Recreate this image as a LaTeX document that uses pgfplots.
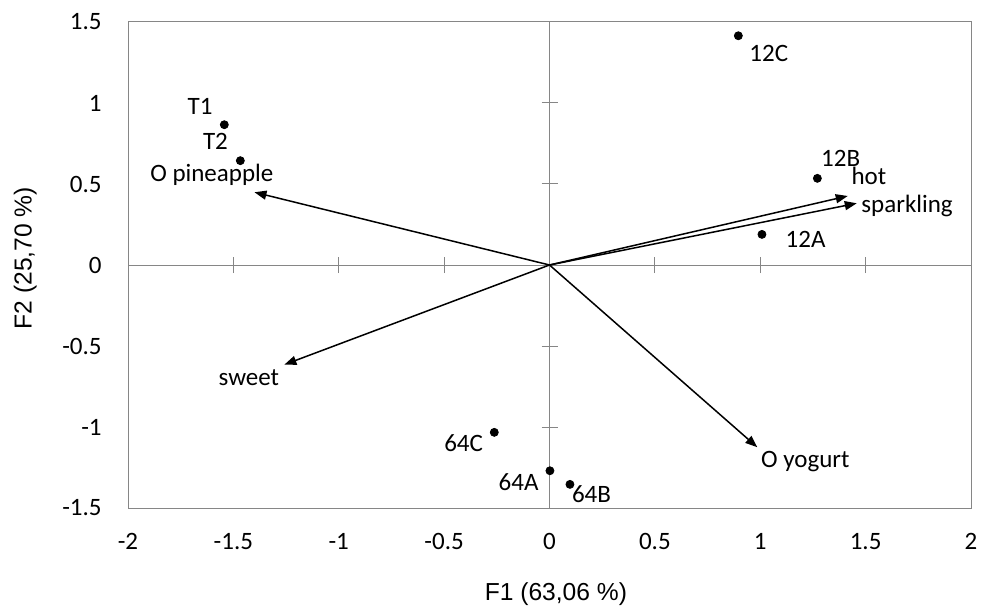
\documentclass[border=0pt]{standalone}
\usepackage{fontspec}
\setmainfont{Liberation Sans}
\newfontfamily\labfont{Carlito}
\usepackage{pgfplots}
\pgfplotsset{compat=1.18}
\usetikzlibrary{arrows.meta}
\definecolor{axgray}{RGB}{134,134,134}

\begin{document}
\begin{tikzpicture}[
    arr/.style={black, line width=0.75pt, -{Triangle[length=6pt,width=4.5pt]}},
    lab/.style={font=\labfont\fontsize{12.5}{14}\selectfont, anchor=base west, inner sep=0pt},
  ]
\begin{axis}[
    name=ax,
    scale only axis,
    width=421.5pt, height=243pt,
    xmin=-2, xmax=2, ymin=-1.5, ymax=1.5,
    xtick={-2,-1.5,-1,-0.5,0,0.5,1,1.5,2},
    xticklabels={-2,-1.5,-1,-0.5,0,0.5,1,1.5,2},
    ytick={-1.5,-1,-0.5,0,0.5,1,1.5},
    yticklabels={-1.5,-1,-0.5,0,0.5,1,1.5},
    major tick length=0pt,
    axis line style={axgray, line width=0.5pt},
    clip=false,
    xticklabel style={anchor=north, inner sep=0pt, yshift=-12.5pt, font=\labfont\fontsize{12.5}{14}\selectfont},
    yticklabel style={anchor=east, inner sep=0pt, xshift=-13pt, font=\labfont\fontsize{12.5}{14}\selectfont},
    xlabel={F1 (63,06 \%)},
    ylabel={F2 (25,70 \%)},
    label style={font=\fontsize{12.3}{14}\selectfont},
    xlabel style={at={(axis description cs:0.5076,-0.177)}, anchor=center},
    ylabel style={at={(axis description cs:-0.122,0.514)}, anchor=center},
  ]
  % zero lines with crossing ticks
  \draw[axgray, line width=0.5pt] (axis cs:-2,0) -- (axis cs:2,0);
  \draw[axgray, line width=0.5pt] (axis cs:0,-1.5) -- (axis cs:0,1.5);
  \pgfplotsinvokeforeach{-1.5,-1,-0.5,0.5,1,1.5}{
    \draw[axgray, line width=0.5pt] ([yshift=-4pt]axis cs:#1,0) -- ([yshift=4pt]axis cs:#1,0);
  }
  \pgfplotsinvokeforeach{-1,-0.5,0.5,1}{
    \draw[axgray, line width=0.5pt] ([xshift=-4pt]axis cs:0,#1) -- ([xshift=4pt]axis cs:0,#1);
  }

  % variables
  \addplot[arr, no marks] coordinates {(0,0) (-1.40,0.449)};
  \addplot[arr, no marks] coordinates {(0,0) (1.415,0.426)};
  \addplot[arr, no marks] coordinates {(0,0) (1.458,0.381)};
  \addplot[arr, no marks] coordinates {(0,0) (-1.258,-0.615)};
  \addplot[arr, no marks] coordinates {(0,0) (0.986,-1.125)};

  % observations
  \addplot[only marks, mark=*, mark size=2pt, black] coordinates {
    (-1.543,0.866) (-1.467,0.644) (0.896,1.415) (1.271,0.535) (1.008,0.189)
    (-0.262,-1.033) (0.002,-1.270) (0.097,-1.354)
  };

  \node[lab] at (axis cs:-1.719,0.932) {T1};
  \node[lab] at (axis cs:-1.646,0.716) {T2};
  \node[lab] at (axis cs:-1.896,0.514) {O pineapple};
  \node[lab] at (axis cs:0.947,1.255) {12C};
  \node[lab] at (axis cs:1.287,0.607) {12B};
  \node[lab] at (axis cs:1.431,0.494) {hot};
  \node[lab] at (axis cs:1.478,0.323) {sparkling};
  \node[lab] at (axis cs:1.119,0.109) {12A};
  \node[lab] at (axis cs:-1.572,-0.741) {sweet};
  \node[lab] at (axis cs:-0.501,-1.152) {64C};
  \node[lab] at (axis cs:-0.243,-1.389) {64A};
  \node[lab] at (axis cs:0.105,-1.465) {64B};
  \node[lab] at (axis cs:1.002,-1.251) {O yogurt};
\end{axis}
\path ([xshift=-64pt,yshift=-50pt]ax.south west) rectangle ([xshift=5pt,yshift=11pt]ax.north east);
\end{tikzpicture}
\end{document}
